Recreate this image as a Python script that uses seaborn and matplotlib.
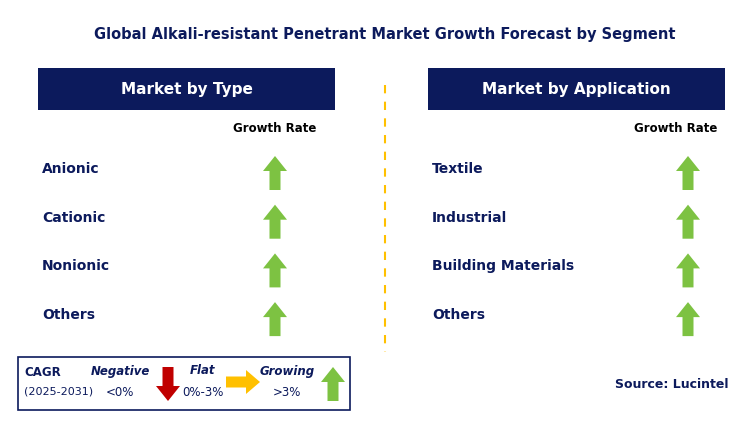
import matplotlib
matplotlib.use("Agg")
import matplotlib.pyplot as plt
import seaborn as sns
from matplotlib.patches import Rectangle, FancyArrow

sns.set_theme(style="white")
plt.rcParams["font.family"] = "DejaVu Sans"

title = "Global Alkali-resistant Penetrant Market Growth Forecast by Segment"
type_categories = ["Anionic", "Cationic", "Nonionic", "Others"]
type_growth = ["up", "up", "up", "up"]
app_categories = ["Textile", "Industrial", "Building Materials", "Others"]
app_growth = ["up", "up", "up", "up"]

NAVY = "#0c1a5c"
GREEN = "#7dc242"
RED = "#c00000"
ORANGE = "#ffc000"

fig = plt.figure(figsize=(7.43, 4.25), dpi=100)
ax = fig.add_axes([0, 0, 1, 1])
ax.set_xlim(0, 743); ax.set_ylim(425, 0); ax.axis("off")

ax.text(385, 34, title, ha="center", va="center", fontsize=10.5, fontweight="bold", color=NAVY)

def arrow(x, y, d, color):
    if d == "up":
        ax.add_patch(FancyArrow(x, y + 17, 0, -34, width=11, head_width=24, head_length=15,
                                length_includes_head=True, color=color, lw=0))
    elif d == "down":
        ax.add_patch(FancyArrow(x, y - 17, 0, 34, width=11, head_width=24, head_length=15,
                                length_includes_head=True, color=color, lw=0))
    else:
        ax.add_patch(FancyArrow(x - 17, y, 34, 0, width=11, head_width=24, head_length=14,
                                length_includes_head=True, color=color, lw=0))

def panel(x0, x1, header, cats, growth, gx, rx):
    ax.add_patch(Rectangle((x0, 68), x1 - x0, 42, color=NAVY, lw=0))
    ax.text((x0 + x1) / 2, 89, header, ha="center", va="center", fontsize=11,
            fontweight="bold", color="white")
    ax.text(rx, 129, "Growth Rate", ha="center", va="center", fontsize=8.5,
            fontweight="bold", color="black")
    for i, (c, g) in enumerate(zip(cats, growth)):
        y = 169 + i * 48.7
        ax.text(x0 + 4, y, c, ha="left", va="center", fontsize=10, fontweight="bold", color=NAVY)
        arrow(gx, y + 4, g, GREEN)

panel(38, 335, "Market by Type", type_categories, type_growth, 275, 275)
panel(428, 725, "Market by Application", app_categories, app_growth, 688, 676)

ax.plot([385, 385], [85, 352], ls=(0, (4, 4)), color=ORANGE, lw=1.5)

ax.add_patch(Rectangle((18, 357), 332, 53, fill=False, ec=NAVY, lw=1.2))
ax.text(24, 373, "CAGR", fontsize=8.5, fontweight="bold", color=NAVY, va="center")
ax.text(24, 392, "(2025-2031)", fontsize=8, color=NAVY, va="center")
ax.text(120, 371, "Negative", fontsize=8.5, fontweight="bold", style="italic", color=NAVY, ha="center", va="center")
ax.text(120, 393, "<0%", fontsize=8.5, color=NAVY, ha="center", va="center")
arrow(168, 384, "down", RED)
ax.text(203, 371, "Flat", fontsize=8.5, fontweight="bold", style="italic", color=NAVY, ha="center", va="center")
ax.text(203, 393, "0%-3%", fontsize=8.5, color=NAVY, ha="center", va="center")
arrow(243, 382, "right", ORANGE)
ax.text(287, 371, "Growing", fontsize=8.5, fontweight="bold", style="italic", color=NAVY, ha="center", va="center")
ax.text(287, 393, ">3%", fontsize=8.5, color=NAVY, ha="center", va="center")
arrow(333, 384, "up", GREEN)

ax.text(672, 384, "Source: Lucintel", fontsize=9, fontweight="bold", color=NAVY, ha="center", va="center")

fig.savefig("out.png", dpi=100)
